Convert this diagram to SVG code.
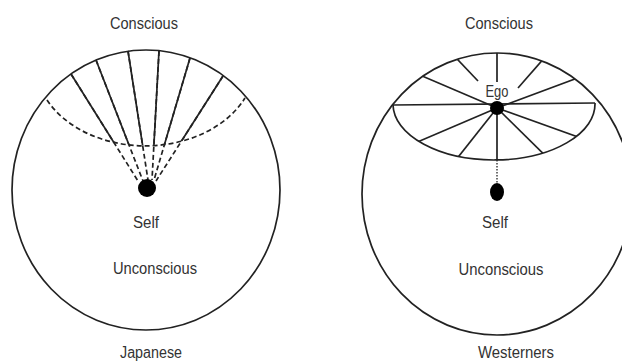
<svg xmlns="http://www.w3.org/2000/svg" width="622" height="362" viewBox="0 0 622 362">
<style>
.t{font-family:"Liberation Sans",Arial,sans-serif;font-size:16px;fill:#333;text-anchor:middle}
.ln{stroke:#222;stroke-width:1.7;fill:none}
.ds{stroke:#222;stroke-width:1.7;fill:none;stroke-dasharray:5 3}
.dt{stroke:#222;stroke-width:1.3;fill:none;stroke-dasharray:1.5 1.5}
.dot{fill:#000}
</style>
<defs>
<clipPath id="aboveArc"><path d="M0,0 H300 V98 H245 A110,83 0 0,1 47,100 H0 Z"/></clipPath>
<clipPath id="rCirc"><ellipse cx="497" cy="194" rx="135" ry="141"/></clipPath>
<clipPath id="lensLow"><path d="M393,105 A101,56 0 0,0 595,103 L640,103 L640,0 L350,0 L350,105 Z"/></clipPath>
</defs>
<rect width="622" height="362" fill="#fff"/>

<g id="japanese">
<ellipse class="ln" cx="146" cy="190" rx="134" ry="140"/>
<g id="fan-dashed">
<line class="ds" x1="71" y1="74" x2="138" y2="181"/>
<line class="ds" x1="96" y1="60" x2="143" y2="181"/>
<line class="ds" x1="128" y1="51" x2="148" y2="180"/>
<line class="ds" x1="159" y1="51" x2="152" y2="180"/>
<line class="ds" x1="190" y1="58" x2="154" y2="180"/>
<line class="ds" x1="223" y1="76" x2="156" y2="181"/>
</g>
<g id="fan-solid" clip-path="url(#aboveArc)">
<line class="ln" x1="71" y1="74" x2="138" y2="181"/>
<line class="ln" x1="96" y1="60" x2="143" y2="181"/>
<line class="ln" x1="128" y1="51" x2="148" y2="180"/>
<line class="ln" x1="159" y1="51" x2="152" y2="180"/>
<line class="ln" x1="190" y1="58" x2="154" y2="180"/>
<line class="ln" x1="223" y1="76" x2="156" y2="181"/>
</g>
<path class="ds" d="M47,100 A110,83 0 0,0 245,98"/>
<circle class="dot" cx="147" cy="188" r="9"/>
<text class="t" x="144" y="29" textLength="68" lengthAdjust="spacingAndGlyphs">Conscious</text>
<text class="t" x="146" y="228" textLength="26" lengthAdjust="spacingAndGlyphs">Self</text>
<text class="t" x="155" y="274" textLength="84" lengthAdjust="spacingAndGlyphs">Unconscious</text>
<text class="t" x="151" y="358" textLength="62" lengthAdjust="spacingAndGlyphs">Japanese</text>
</g>

<g id="westerners">
<ellipse class="ln" cx="497" cy="194" rx="135" ry="141"/>
<path class="ln" d="M393,105 A101,56 0 0,0 595,103"/>
<g id="spokes" clip-path="url(#rCirc)">
<g clip-path="url(#lensLow)">
<line class="ln" x1="393" y1="105" x2="595" y2="103"/>
<line class="ln" x1="497" y1="82" x2="497" y2="30"/>
<line class="ln" x1="478" y1="81" x2="440" y2="41"/>
<line class="ln" x1="518" y1="88" x2="560" y2="40"/>
<line class="ln" x1="497" y1="108" x2="380" y2="58"/>
<line class="ln" x1="497" y1="108" x2="610" y2="66"/>
<line class="ln" x1="497" y1="108" x2="380" y2="158"/>
<line class="ln" x1="497" y1="108" x2="440" y2="180"/>
<line class="ln" x1="497" y1="108" x2="497" y2="180"/>
<line class="ln" x1="497" y1="108" x2="570" y2="180"/>
<line class="ln" x1="497" y1="108" x2="620" y2="152"/>
</g>
</g>
<line class="dt" x1="497" y1="160" x2="497" y2="184"/>
<circle class="dot" cx="497" cy="108" r="7"/>
<ellipse class="dot" cx="497" cy="192" rx="7" ry="9"/>
<text class="t" x="499" y="29" textLength="68" lengthAdjust="spacingAndGlyphs">Conscious</text>
<text class="t" x="497" y="97" textLength="23" lengthAdjust="spacingAndGlyphs">Ego</text>
<text class="t" x="495" y="228" textLength="26" lengthAdjust="spacingAndGlyphs">Self</text>
<text class="t" x="501" y="275" textLength="85" lengthAdjust="spacingAndGlyphs">Unconscious</text>
<text class="t" x="516" y="358" textLength="76" lengthAdjust="spacingAndGlyphs">Westerners</text>
</g>
</svg>
